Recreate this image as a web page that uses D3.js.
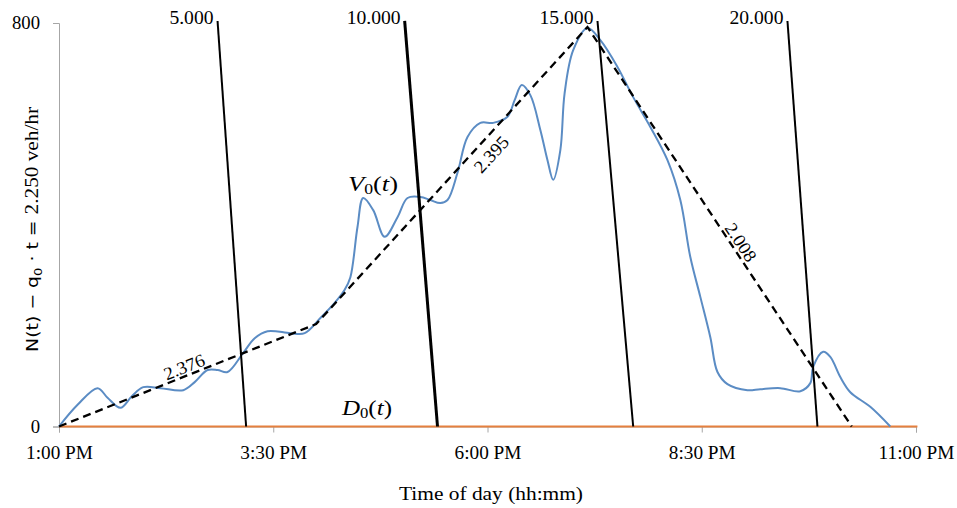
<!DOCTYPE html>
<html><head><meta charset="utf-8">
<script src="https://cdn.jsdelivr.net/npm/d3@7"></script>
<style>
body{margin:0;background:#fff;}
svg{display:block;}
text{font-family:"Liberation Serif","Times New Roman",serif;fill:#000;}
</style></head><body>
<svg id="chart" width="957" height="508"></svg>
<script>
// ---- data ----
const curveTimes = ["13:00","13:13","13:27","13:34","13:43","13:51","13:59","14:11","14:27","14:35","14:44","14:51","14:58","15:09","15:17","15:26","15:42","15:52","16:03","16:13","16:20","16:24","16:29","16:33","16:40","16:48","16:57","17:04","17:13","17:20","17:27","17:32","17:39","17:46","17:55","18:04","18:14","18:19","18:24","18:30","18:37","18:42","18:46","18:51","18:54","19:00","19:10","19:19","19:31","19:42","19:54","20:06","20:15","20:22","20:29","20:36","20:41","20:48","21:02","21:11","21:25","21:39","21:46","21:48","21:55","22:00","22:07","22:14","22:28","22:42"];
const curveValues = [0,43,76,57,37,60,78,76,72,88,112,112,108,146,175,189,185,185,215,245,271,296,396,453,429,376,415,453,455,449,443,449,503,574,602,602,614,647,677,657,588,528,489,548,661,746,790,766,713,653,594,528,449,336,257,177,108,84,72,74,76,70,86,118,148,138,98,68,39,0];

const trendTimes = ["13:00","16:00","19:10","22:15"];
const trendValues = [0,203,792,0];
const slopeLabels = ["2.376","2.395","2.008"];
const slopeLabelTimes = ["14:30","17:55","20:52"];

const countLabels = ["5.000","10.000","15.000","20.000"];
const countTopTimes = ["14:51","17:02","19:17","21:30"];
const countBottomTimes = ["15:11","17:25","19:42","21:51"];
const countTopValue = 804;
const countBottomValue = 0;

const departureTimes = ["13:00","23:01"];
const departureValues = [0,0];

const xTickTimes = ["13:00","15:30","18:00","20:30","23:00"];
const xTickLabels = ["1:00 PM","3:30 PM","6:00 PM","8:30 PM","11:00 PM"];
const yTickValues = [0,800];

// ---- drawing ----
const parse = d3.timeParse("%H:%M");
const svg = d3.select("#chart");
const x = d3.scaleTime().domain([parse("13:00"), parse("23:00")]).range([59, 916]);
const y = d3.scaleLinear().domain([0, 800]).range([426.5, 23]);

function stretch(sel, k){
  sel.each(function(){
    const w = this.getComputedTextLength();
    this.setAttribute("textLength", w * k);
    this.setAttribute("lengthAdjust", "spacingAndGlyphs");
  });
}

// axes
const gx = svg.append("g").attr("transform", `translate(0,${y(0)})`)
  .call(d3.axisBottom(x).tickValues(xTickTimes.map(parse))
    .tickFormat((d,i)=>xTickLabels[i]).tickSize(6).tickPadding(14));
gx.select(".domain").attr("stroke", "#a6a6a6");
gx.selectAll(".tick line").attr("stroke", "#a6a6a6");
gx.selectAll(".tick text").attr("font-size", 18).attr("font-family", "Liberation Serif").attr("fill","#000").call(stretch, 1.07);

const gy = svg.append("g").attr("transform", `translate(${x(parse("13:00"))},0)`)
  .call(d3.axisLeft(y).tickValues(yTickValues).tickSize(6).tickPadding(13));
gy.select(".domain").attr("stroke", "#a6a6a6");
gy.selectAll(".tick line").attr("stroke", "#a6a6a6");
gy.selectAll(".tick text").attr("font-size", 18).attr("font-family", "Liberation Serif").attr("fill","#000").call(stretch, 1.04);

// axis titles
svg.append("text").attr("x", 491).attr("y", 500).attr("text-anchor", "middle")
  .attr("font-size", 19).attr("textLength", 184).attr("lengthAdjust", "spacingAndGlyphs")
  .text("Time of day (hh:mm)");

const yt = svg.append("text").attr("transform", "translate(38,229.5) rotate(-90)")
  .attr("text-anchor", "middle").attr("font-size", 18)
  .attr("textLength", 245).attr("lengthAdjust", "spacingAndGlyphs");
yt.append("tspan").attr("font-family", "DejaVu Sans").attr("font-size", 16).text("N(t) \u2212 q");
yt.append("tspan").attr("font-family", "DejaVu Sans").attr("font-size", 11).attr("dy", 4).text("0");
yt.append("tspan").attr("font-family", "DejaVu Sans").attr("font-size", 16).attr("dy", -4).text(" \u00b7 t = ");
yt.append("tspan").text("2.250 veh/hr");

// departure curve D0(t)
svg.append("path")
  .datum(departureTimes.map((t,i)=>({t:parse(t), v:departureValues[i]})))
  .attr("fill","none").attr("stroke","#E5803F").attr("stroke-width",2.2)
  .attr("d", d3.line().x(d=>x(d.t)).y(d=>y(d.v)));

// cumulative arrival curve V0(t)
svg.append("path")
  .datum(curveTimes.map((t,i)=>({t:parse(t), v:curveValues[i]})))
  .attr("fill","none").attr("stroke","#5B8CC4").attr("stroke-width",2)
  .attr("d", d3.line().curve(d3.curveCatmullRom.alpha(0.5)).x(d=>x(d.t)).y(d=>y(d.v)));

// dashed trend
const trend = trendTimes.map((t,i)=>({t:parse(t), v:trendValues[i]}));
svg.append("path").datum(trend)
  .attr("fill","none").attr("stroke","#000").attr("stroke-width",2.3)
  .attr("stroke-dasharray","8,5")
  .attr("d", d3.line().x(d=>x(d.t)).y(d=>y(d.v)));

// slope labels
const slopeDy = [-3, 21, -3];
slopeLabels.forEach((lab,i)=>{
  const a = trend[i], b = trend[i+1];
  const x0 = x(a.t), y0 = y(a.v), x1 = x(b.t), y1 = y(b.v);
  const px = x(parse(slopeLabelTimes[i]));
  const py = y0 + (y1 - y0) * (px - x0) / (x1 - x0);
  const ang = Math.atan2(y1 - y0, x1 - x0) * 180 / Math.PI;
  svg.append("text").attr("transform", `translate(${px},${py}) rotate(${ang})`)
    .attr("text-anchor","middle").attr("dy", slopeDy[i]).attr("font-size", 18)
    .text(lab).call(stretch, 1.05);
});

// count lines
const countWidths = [2, 3, 2, 2];
countLabels.forEach((lab,i)=>{
  const xt = x(parse(countTopTimes[i])), xb = x(parse(countBottomTimes[i]));
  svg.append("line").attr("x1", xt).attr("y1", y(countTopValue))
    .attr("x2", xb).attr("y2", y(countBottomValue))
    .attr("stroke","#000").attr("stroke-width", countWidths[i]);
  svg.append("text").attr("x", xt - 4).attr("y", y(countTopValue) + 3)
    .attr("text-anchor","end").attr("font-size", 18).text(lab).call(stretch, 1.09);
});

// series labels
const v0 = svg.append("text").attr("x", 348).attr("y", 191).attr("font-size", 21)
  .attr("textLength", 50).attr("lengthAdjust","spacingAndGlyphs");
v0.append("tspan").attr("font-style","italic").text("V");
v0.append("tspan").attr("font-size", 14).attr("dy", 3).text("0");
v0.append("tspan").attr("dy", -3).text("(");
v0.append("tspan").attr("font-style","italic").text("t");
v0.append("tspan").text(")");

const d0 = svg.append("text").attr("x", 342).attr("y", 415).attr("font-size", 21)
  .attr("textLength", 50).attr("lengthAdjust","spacingAndGlyphs");
d0.append("tspan").attr("font-style","italic").text("D");
d0.append("tspan").attr("font-size", 14).attr("dy", 3).text("0");
d0.append("tspan").attr("dy", -3).text("(");
d0.append("tspan").attr("font-style","italic").text("t");
d0.append("tspan").text(")");
</script>
</body></html>
